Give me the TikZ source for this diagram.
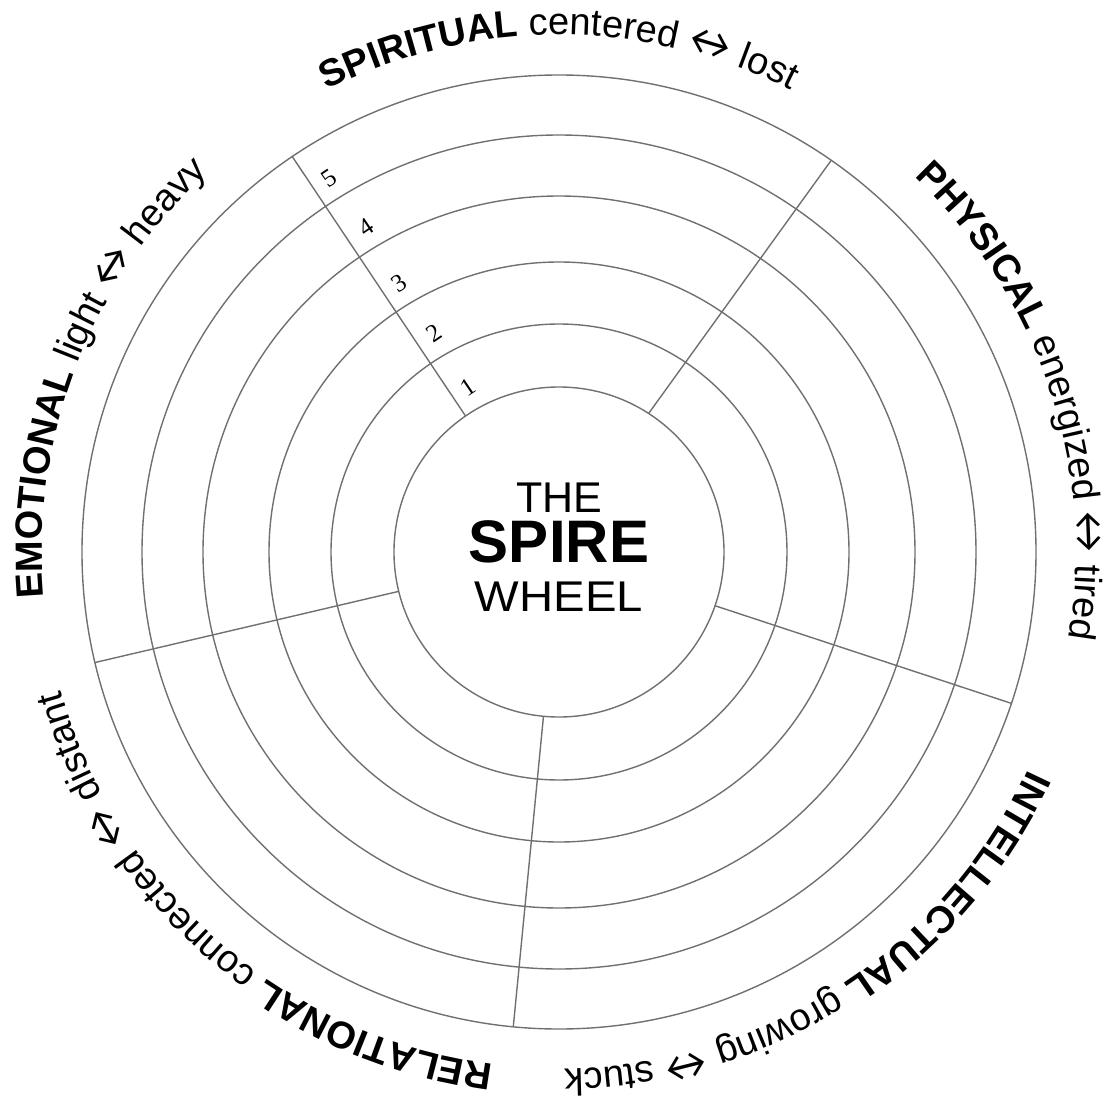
\documentclass[tikz,border=0pt]{standalone}
\usepackage{fontspec}
\setmainfont{Liberation Sans}
\newfontfamily\numfont{Liberation Serif}
\newfontfamily\arrowfont{Lato}
\usetikzlibrary{decorations.text}
\definecolor{wheelgray}{RGB}{112,112,112}
\newcommand\lblfont{\rmfamily\fontsize{38}{40}\selectfont}
\newcommand\arrfont{\arrowfont\fontsize{42}{40}\selectfont}

\begin{document}
\begin{tikzpicture}[x=1pt,y=1pt,
    wheelline/.style={draw=wheelgray,line width=1.4pt},
    levelnum/.style={font=\numfont\fontsize{25}{25}\selectfont,rotate=34,inner sep=0pt},
    titleline/.style={font=\fontsize{43}{43}\selectfont,inner sep=0pt},
    rimlabel/.style={decorate,decoration={text along path,text align=center,text={#1}}}]
  \useasboundingbox (-559,-548) rectangle (548,552);
  % rings
  \foreach \rad in {165,228,290,356,417,477}
    \draw[wheelline] (0,0) circle[radius=\rad];
  % spokes
  \foreach \a/\b in {124.5/124.0,57.1/55.2,-19.0/-18.5,-95.4/-95.5,193.8/193.4}
    \draw[wheelline] (\a:165)--(\b:477);
  % level numbers
  \foreach \a/\rad/\lv in {118.9/188/1,119.7/252/2,120.7/313/3,120.7/378/4,121.6/439/5}
    \node[levelnum] (lvl\lv) at (\a:\rad) {\lv};
  % centre
  \node[titleline] (the) at (0,54) {THE};
  \node[titleline,font=\fontsize{60}{60}\selectfont\bfseries] (spire) at (0,10) {SPIRE};
  \node[titleline,xscale=1.1] (wheel) at (0,-45) {WHEEL};
  % rim labels
  \path[rimlabel={|\lblfont\bfseries|SPIRITUAL |\lblfont\mdseries|centered |\arrfont|↔|\lblfont\mdseries| lost}]
    (140:517) arc[start angle=140,end angle=40,radius=517];
  \path[rimlabel={|\lblfont\bfseries|PHYSICAL |\lblfont\mdseries|energized |\arrfont|↔|\lblfont\mdseries| tired}]
    (68.5:517) arc[start angle=68.5,end angle=-31.5,radius=517];
  \path[rimlabel={|\lblfont\bfseries|INTELLECTUAL |\lblfont\mdseries|growing |\arrfont|↔|\lblfont\mdseries| stuck}]
    (-7.1:517) arc[start angle=-7.1,end angle=-107.1,radius=517];
  \path[rimlabel={|\lblfont\bfseries|RELATIONAL |\lblfont\mdseries|connected |\arrfont|↔|\lblfont\mdseries| distant}]
    (-80.9:517) arc[start angle=-80.9,end angle=-180.9,radius=517];
  \path[rimlabel={|\lblfont\bfseries|EMOTIONAL |\lblfont\mdseries|light |\arrfont|↔|\lblfont\mdseries| heavy}]
    (208.9:517) arc[start angle=208.9,end angle=108.9,radius=517];
\end{tikzpicture}
\end{document}
